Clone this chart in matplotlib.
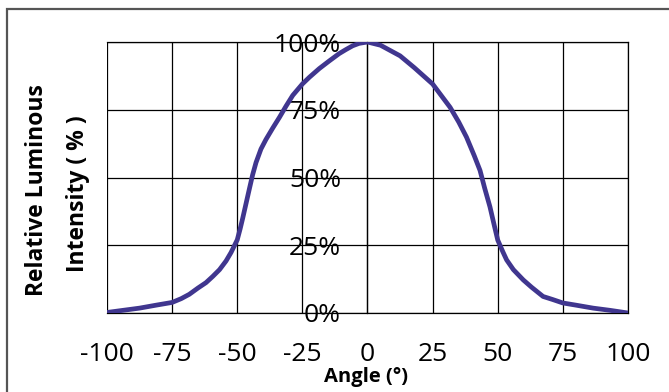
import numpy as np
import matplotlib.pyplot as plt
from matplotlib.patches import Rectangle

plt.rcParams['font.family'] = ['Open Sans', 'DejaVu Sans']
plt.rcParams['axes.unicode_minus'] = False

# readings
angle = [-100, -87.5, -81.1, -75, -71.5, -68.4, -65.1, -62, -59.4, -56.8, -54.3, -52.4, -50,
         -48.9, -47.9, -46.6, -45.3, -44.1, -42.8, -40.9, -39, -36.4, -33.8, -31.3,
         -28.7, -25, -22.3, -18.5, -14.7, -10.9, -8.3, -5.7, -3.2, 0,
         5, 12.5, 18, 25, 31.7, 35, 38, 41, 43.2, 45, 47, 48.5, 50, 52, 53.4, 56,
         59.8, 63, 67.4, 71, 75, 80, 86.6, 93, 100]
intensity = [0.2, 1.8, 2.9, 3.9, 5.3, 6.9, 9.2, 11.2, 13.5, 16.0, 19.2, 22.3, 27.0,
             31.0, 35.0, 40.5, 46.0, 51.0, 55.5, 60.5, 64.0, 68.2, 72.2, 76.3,
             80.3, 84.5, 87.0, 90.2, 93.0, 95.7, 97.2, 98.6, 99.5, 100,
             98.8, 94.9, 90.5, 84.5, 75.9, 70.5, 64.9, 58, 52.6, 46, 39.2, 33, 26.9, 22.5, 19.6, 16,
             12.2, 9.5, 6.1, 5, 3.7, 2.9, 1.8, 1.0, 0]
x_ticks = [-100, -75, -50, -25, 0, 25, 50, 75, 100]
y_ticks = [0, 25, 50, 75, 100]
y_labels = ['0%', '25%', '50%', '75%', '100%']

fig = plt.figure(figsize=(6.69, 3.92), dpi=100)
ax = fig.add_axes([107/669, 1-313/392, (628-107)/669, (313-42)/392])

ax.plot(angle, intensity, color='#40368F', lw=3.4, solid_joinstyle='round',
        solid_capstyle='butt', zorder=3)

ax.set_xlim(-100, 100)
ax.set_ylim(0, 100)
ax.set_xticks(x_ticks)
ax.set_yticks(y_ticks)
ax.set_yticklabels(y_labels)
ax.grid(True, color='black', lw=0.9)
ax.set_axisbelow(True)

ax.spines['left'].set_position(('data', 0))
for s in ax.spines.values():
    s.set_color('black')
    s.set_linewidth(0.9)
ax.tick_params(axis='both', length=0, labelsize=19)
ax.tick_params(axis='y', pad=19)
ax.tick_params(axis='x', pad=21)
for t in ax.get_yticklabels():
    t.set_zorder(5)

fig.text(366/669, 1-377/392, 'Angle (°)', ha='center', va='center',
         fontsize=14.5, fontweight='bold')
fig.text(37/669, 1-190/392, 'Relative Luminous', rotation=90, ha='center', va='center',
         fontsize=16.5, fontweight='bold')
fig.text(78/669, 1-194/392, 'Intensity ( % )', rotation=90, ha='center', va='center',
         fontsize=16.5, fontweight='bold')

fig.patches.append(Rectangle((7/669, -0.1), 1.0, 1-9/392+0.1, transform=fig.transFigure,
                             fill=False, edgecolor='#555555', lw=1.6))

fig.savefig('out.png', dpi=100)
